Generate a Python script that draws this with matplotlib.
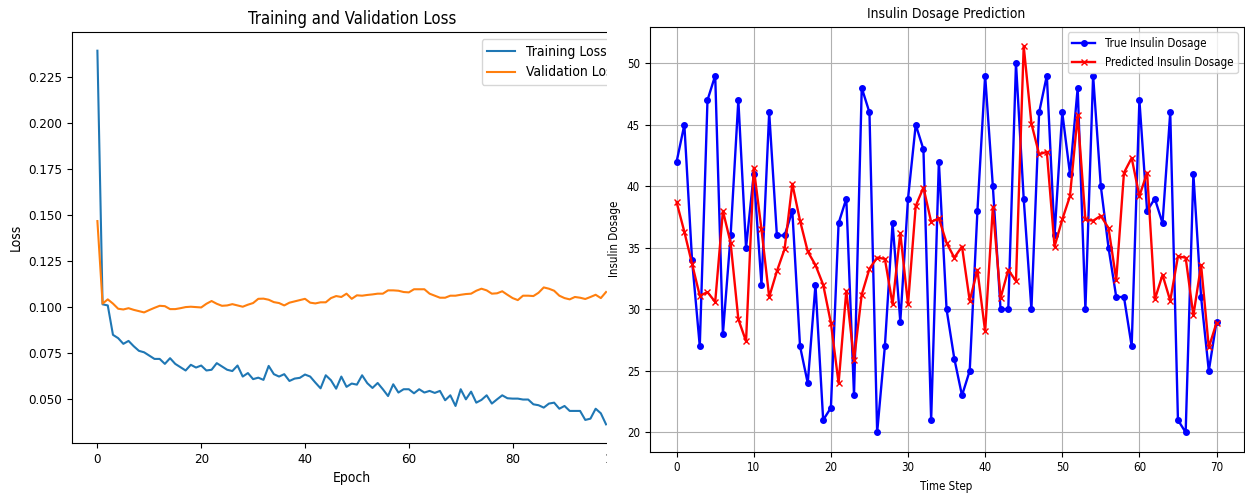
#!/usr/bin/env python3
# -*- coding: utf-8 -*-
"""
Training curves next to the insulin dosage prediction plot.
"""

import matplotlib
matplotlib.use('Agg')
import matplotlib.pyplot
import matplotlib.patches

train_loss = [
    0.2395, 0.1015, 0.1009, 0.0849, 0.0831, 0.0800, 0.0816, 0.0787, 0.0762, 0.0754,
    0.0736, 0.0718, 0.0718, 0.0691, 0.0722, 0.0691, 0.0673, 0.0655, 0.0686, 0.0671,
    0.0682, 0.0655, 0.0659, 0.0695, 0.0677, 0.0659, 0.0652, 0.0682, 0.0622, 0.0641,
    0.0608, 0.0616, 0.0604, 0.0680, 0.0635, 0.0622, 0.0635, 0.0598, 0.0611, 0.0615,
    0.0633, 0.0622, 0.0589, 0.0558, 0.0629, 0.0602, 0.0556, 0.0622, 0.0566, 0.0584,
    0.0578, 0.0629, 0.0586, 0.0560, 0.0587, 0.0553, 0.0516, 0.0580, 0.0535, 0.0553,
    0.0553, 0.0531, 0.0553, 0.0535, 0.0544, 0.0533, 0.0544, 0.0493, 0.0520, 0.0462,
    0.0553, 0.0498, 0.0540, 0.0480, 0.0495, 0.0520, 0.0475, 0.0498, 0.0520, 0.0504,
    0.0502, 0.0502, 0.0497, 0.0497, 0.0471, 0.0466, 0.0453, 0.0475, 0.0480, 0.0447,
    0.0462, 0.0435, 0.0435, 0.0435, 0.0386, 0.0393, 0.0447, 0.0422, 0.0362,
]
val_loss = [
    0.1468, 0.1019, 0.1042, 0.1019, 0.0991, 0.0987, 0.0994, 0.0985, 0.0978, 0.0971,
    0.0984, 0.0996, 0.1007, 0.1005, 0.0989, 0.0989, 0.0994, 0.1000, 0.1002, 0.1000,
    0.0998, 0.1018, 0.1033, 0.1018, 0.1007, 0.1009, 0.1016, 0.1009, 0.1002, 0.1013,
    0.1022, 0.1045, 0.1046, 0.1040, 0.1027, 0.1022, 0.1009, 0.1024, 0.1031, 0.1038,
    0.1045, 0.1024, 0.1020, 0.1026, 0.1026, 0.1049, 0.1060, 0.1055, 0.1073, 0.1045,
    0.1064, 0.1062, 0.1066, 0.1069, 0.1073, 0.1073, 0.1091, 0.1091, 0.1089, 0.1082,
    0.1080, 0.1097, 0.1097, 0.1097, 0.1073, 0.1062, 0.1051, 0.1051, 0.1062, 0.1062,
    0.1067, 0.1071, 0.1073, 0.1089, 0.1100, 0.1091, 0.1073, 0.1075, 0.1086, 0.1067,
    0.1049, 0.1038, 0.1062, 0.1062, 0.1060, 0.1078, 0.1107, 0.1100, 0.1089, 0.1062,
    0.1049, 0.1042, 0.1055, 0.1051, 0.1044, 0.1055, 0.1067, 0.1049, 0.1082,
]
true_dosage = [
    42, 45, 34, 27, 47, 49, 28, 36, 47, 35, 41, 32, 46, 36, 36, 38, 27, 24, 32, 21,
    22, 37, 39, 23, 48, 46, 20, 27, 37, 29, 39, 45, 43, 21, 42, 30, 26, 23, 25, 38,
    49, 40, 30, 30, 50, 39, 30, 46, 49, 36, 46, 41, 48, 30, 49, 40, 35, 31, 31, 27,
    47, 38, 39, 37, 46, 21, 20, 41, 31, 25, 29,
]
predicted_dosage = [
    38.7, 36.3, 33.7, 31.1, 31.4, 30.6, 38.0, 35.4, 29.2, 27.4,
    41.5, 36.5, 31.0, 33.1, 34.9, 40.2, 37.2, 34.7, 33.6, 32.0,
    28.9, 24.0, 31.5, 25.9, 31.2, 33.3, 34.2, 34.1, 30.4, 36.2,
    30.4, 38.4, 39.9, 37.1, 37.4, 35.4, 34.2, 35.1, 30.7, 33.2,
    28.2, 38.3, 30.9, 33.2, 32.3, 51.4, 45.1, 42.6, 42.8, 35.1,
    37.3, 39.2, 45.8, 37.3, 37.2, 37.6, 36.6, 32.4, 41.1, 42.3,
    39.2, 41.1, 30.8, 32.8, 30.7, 34.3, 34.2, 29.5, 33.6, 26.9,
    28.9,
]


def plot(output_file):
    """
    Draws both panels, the loss panel partly hidden under the second one.
    """
    matplotlib.pyplot.rcParams['font.family'] = ['DejaVu Sans']
    matplotlib.pyplot.rcParams['font.stretch'] = 'condensed'
    figure = matplotlib.pyplot.figure(figsize=(12.45, 4.95), dpi=100)

    # left panel: loss curves (its right part gets covered)
    left = figure.add_axes([0.0578, 0.105, 0.4494, 0.8303])
    left.plot(range(len(train_loss)), train_loss, label='Training Loss')
    left.plot(range(len(val_loss)), val_loss, label='Validation Loss')
    left.set_title('Training and Validation Loss', fontsize=12)
    left.set_xlabel('Epoch', fontsize=10)
    left.set_ylabel('Loss', fontsize=10)
    left.tick_params(labelsize=9.5)
    left.legend(loc='upper right', fontsize=10)

    cover = matplotlib.patches.Rectangle(
        (607 / 1245, 0), 1, 1, transform=figure.transFigure,
        facecolor='white', edgecolor='none', zorder=1)
    figure.patches.append(cover)

    # right panel: true vs predicted dosage
    right = figure.add_axes([0.5218, 0.0875, 0.4770, 0.8586])
    right.set_zorder(2)
    steps = range(len(true_dosage))
    right.plot(steps, true_dosage, color='blue', marker='o', markersize=4,
               linewidth=1.7, label='True Insulin Dosage')
    right.plot(steps, predicted_dosage, color='red', marker='x',
               markersize=4, linewidth=1.7, label='Predicted Insulin Dosage')
    right.set_title('Insulin Dosage Prediction', fontsize=10)
    right.set_xlabel('Time Step', fontsize=8.3)
    right.set_ylabel('Insulin Dosage', fontsize=8.3)
    right.tick_params(labelsize=8.3)
    right.grid(True)
    right.legend(loc='upper right', fontsize=8.3)

    figure.savefig(output_file)
    matplotlib.pyplot.close()


def main():
    """
    Main entry point into the script.
    """
    plot('out.png')


if __name__ == '__main__':
    main()
